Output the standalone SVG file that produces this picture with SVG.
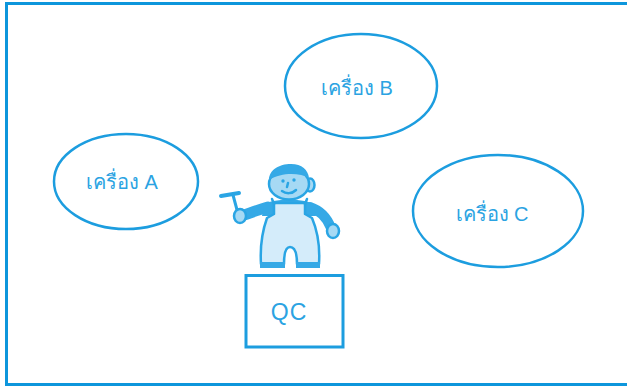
<svg xmlns="http://www.w3.org/2000/svg" width="627" height="387" viewBox="0 0 627 387">
  <style>
    .frame { fill: none; stroke: #0d96dc; stroke-width: 3; }
    .machine { fill: #ffffff; stroke: #1c9ddf; stroke-width: 2.5; }
    .qc { fill: #ffffff; stroke: #1c9ddf; stroke-width: 3; }
    .label { font-family: "Liberation Sans", "Noto Sans", sans-serif; font-size: 20px; fill: #2ba3e2; text-anchor: middle; }
    .ink { stroke: #2aa5e4; stroke-width: 2.5; stroke-linejoin: round; stroke-linecap: round; }
    .skin { fill: #a6d9f4; }
    .cloth { fill: #d4ecfa; }
    .shirt { fill: #35a9e6; }
    .sleeve { fill: none; stroke: #35a9e6; stroke-linecap: round; stroke-linejoin: round; }
  </style>

  <rect class="frame" x="6.5" y="3.5" width="660" height="381"/>

  <g id="machine-a">
    <ellipse class="machine" cx="126" cy="181.5" rx="72" ry="47.5"/>
    <text class="label" x="122" y="189">เครื่อง A</text>
  </g>

  <g id="machine-b">
    <ellipse class="machine" cx="361" cy="86" rx="76" ry="52"/>
    <text class="label" x="357" y="95">เครื่อง B</text>
  </g>

  <g id="machine-c">
    <ellipse class="machine" cx="498" cy="211" rx="85" ry="56"/>
    <text class="label" x="492" y="221">เครื่อง C</text>
  </g>

  <g id="qc">
    <rect class="qc" x="246" y="275.5" width="97" height="71.5"/>
    <text class="label" x="289" y="320" style="font-size:23px;letter-spacing:1px">QC</text>
  </g>

  <!-- inspector figure standing on the QC station -->
  <g id="inspector">
    <!-- hammer -->
    <path d="M221 196 L239 193" fill="none" stroke="#2aa5e4" stroke-width="4" stroke-linecap="round"/>
    <path d="M233 195 L240 221" fill="none" stroke="#2aa5e4" stroke-width="3" stroke-linecap="round"/>
    <!-- arms -->
    <path class="sleeve" d="M268 207 C258 210 250 213 244 215" stroke-width="11"/>
    <path class="sleeve" d="M310 207 C322 211 328 220 331 228" stroke-width="10"/>
    <ellipse class="skin ink" cx="240" cy="216" rx="6" ry="7"/>
    <ellipse class="skin ink" cx="333" cy="231" rx="6" ry="7"/>
    <!-- shirt -->
    <path class="shirt" d="M264 205 C270 198 308 198 314 205 L316 216 L262 216 Z"/>
    <!-- overalls -->
    <path class="cloth ink" d="M274 203 L274 214 L267 218 C262 232 260 248 261 264 L284 264 C284 254 286 247 290 247 C295 247 297 254 297 264 L319 264 C320 248 318 232 312 218 L305 214 L305 203 Z"/>
    <path class="ink" d="M274 204 L272 199 M305 204 L307 199" fill="none"/>
    <!-- feet -->
    <path class="shirt" d="M260 262 L285 262 L285 268 L260 268 Z M296 262 L320 262 L320 268 L296 268 Z"/>
    <!-- head -->
    <ellipse class="skin ink" cx="310" cy="185" rx="4.5" ry="6.5"/>
    <ellipse class="skin ink" cx="289" cy="184" rx="20" ry="15.5"/>
    <path class="shirt" d="M269 180 C269 170 279 164 291 164 C302 164 308 170 309 178 C300 173 282 172 269 180 Z"/>
    <circle cx="283" cy="181" r="1.7" fill="#2aa5e4"/>
    <circle cx="294" cy="180" r="1.7" fill="#2aa5e4"/>
    <path class="ink" d="M288 183 L287 187 M282 191 C286 194 292 194 296 190" fill="none" stroke-width="1.8"/>
  </g>
</svg>
